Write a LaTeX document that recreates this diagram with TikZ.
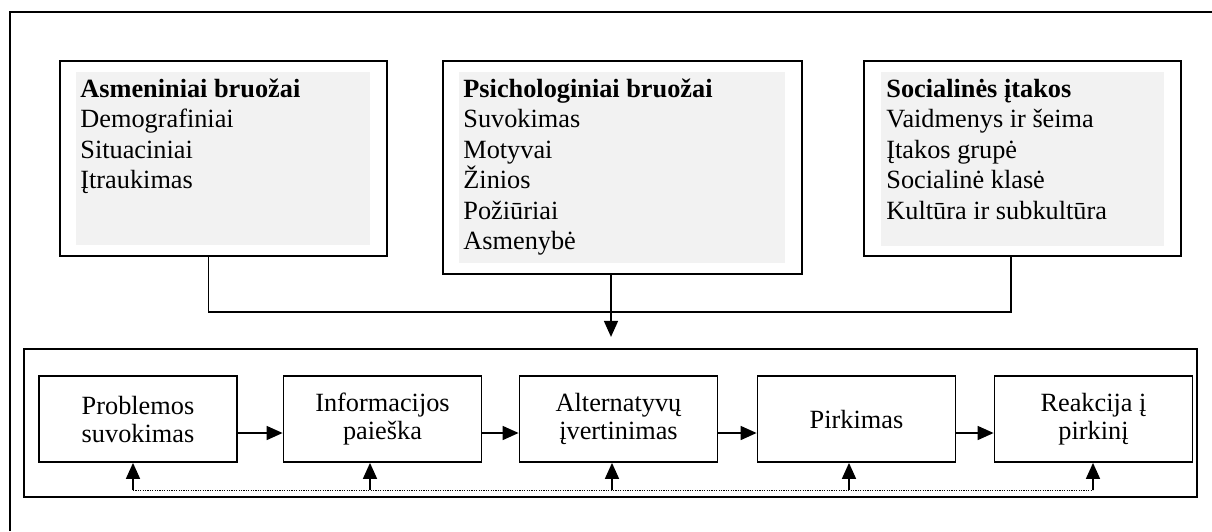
\documentclass[tikz,border=0pt]{standalone}
\usepackage{fontspec}
\setmainfont{Liberation Serif}
\usetikzlibrary{arrows.meta,calc}
\definecolor{panelgray}{RGB}{242,242,242}
\begin{document}
\begin{tikzpicture}[x=0.5pt,y=-0.5pt,
  pageframe/.style={line width=1.2pt},
  factorbox/.style={draw,line width=1pt,inner sep=0pt},
  factortext/.style={anchor=north west,inner sep=0pt,align=left,
    font=\fontsize{13.15}{15.25}\selectfont},
  stagebox/.style={draw,line width=0.9pt,minimum width=99pt,minimum height=43pt,
    inner sep=0pt,align=center,font=\fontsize{13.15}{14}\selectfont},
  groupbox/.style={draw,line width=1.1pt,inner sep=0pt,minimum width=586.5pt,minimum height=74pt},
  link/.style={line width=0.8pt},
  tip/.style={-{Triangle[length=8pt,width=7pt]}},
  feedback/.style={line width=0.5pt,dash pattern=on 0.6pt off 0.6pt}
]
\useasboundingbox (0,0) rectangle (1212,531);

% page frame (open to the right and bottom)
\draw[pageframe] (10,531) -- (10,12) -- (1212,12);

% factor groups
\node[factorbox,minimum width=163.5pt,minimum height=97.5pt] (f1) at (223.5,158.5) {};
\node[factorbox,minimum width=179.5pt,minimum height=106.5pt] (f2) at (622.5,167.5) {};
\node[factorbox,minimum width=158.5pt,minimum height=97.5pt] (f3) at (1022.5,158.5) {};

\fill[panelgray] (76,72) rectangle (370,245);
\fill[panelgray] (459,72) rectangle (785,263);
\fill[panelgray] (881,72) rectangle (1164,246);

\node[factortext] (t1) at (80,75.6) {\strut\textbf{Asmeniniai bruožai}\\Demografiniai\\Situaciniai\\Įtraukimas};
\node[factortext] (t2) at (463,75.6) {\strut\textbf{Psichologiniai bruožai}\\Suvokimas\\Motyvai\\Žinios\\Požiūriai\\Asmenybė};
\node[factortext] (t3) at (886,75.6) {\strut\textbf{Socialinės įtakos}\\Vaidmenys ir šeima\\Įtakos grupė\\Socialinė klasė\\Kultūra ir subkultūra};

% decision process group
\node[groupbox] (stages) at (610.5,423) {};

\node[stagebox] (s1) at (138,419) {Problemos\\suvokimas};
\node[stagebox] (s2) at (382.5,419) {Informacijos\\paieška};
\node[stagebox] (s3) at (618.5,419) {Alternatyvų\\įvertinimas};
\node[stagebox] (s4) at (856.5,419) {Pirkimas};
\node[stagebox] (s5) at (1093.5,419) {Reakcija į\\pirkinį};

% factors merge into one arrow
\coordinate (d1) at ($(f1.south)+(-15,0)$);
\coordinate (d2) at ($(f2.south)+(-11.5,0)$);
\coordinate (d3) at ($(f3.south)+(-11.5,0)$);
\coordinate (bus) at (0,312);
\coordinate (inflow) at ($(stages.north)+(0.5,-11)$);
\draw[link] (d1) -- (d1 |- bus) -- (d3 |- bus) -- (d3);
\draw[link,tip] (d2) -- (d2 |- inflow);

% process flow
\foreach \a/\b in {s1/s2,s2/s3,s3/s4,s4/s5}
  \draw[link,tip] ([yshift=-7pt]\a.east) -- ([yshift=-7pt]\b.west);

% feedback loop
\coordinate (r1) at (133,490);
\coordinate (r2) at (370,490);
\coordinate (r3) at (612,490);
\coordinate (r4) at (849,490);
\coordinate (r5) at (1093,490);
\draw[feedback] (r1) -- (r5);
\foreach \r/\s in {r1/s1,r2/s2,r3/s3,r4/s4,r5/s5}
  \draw[link,tip] (\r) -- (\r |- \s.south);
\end{tikzpicture}
\end{document}
